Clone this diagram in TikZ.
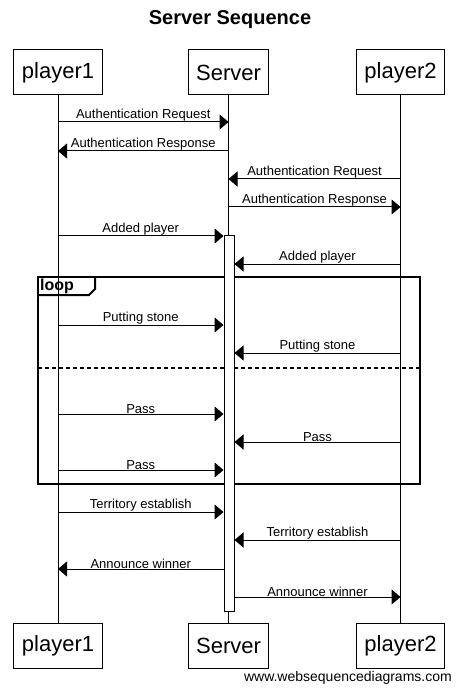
\documentclass[tikz,border=0pt]{standalone}
\usepackage{fontspec}
\setmainfont{Liberation Sans}
\usetikzlibrary{arrows.meta}

\begin{document}
\begin{tikzpicture}[x=1pt,y=-1pt,
    actor/.style={draw,fill=white,line width=1pt,minimum height=45pt,inner xsep=8pt,font=\fontsize{22}{26}\selectfont},
    msg/.style={line width=1pt,-{Triangle[length=9pt,width=15pt]}},
    lbl/.style={midway,above,inner sep=0pt,font=\fontsize{13}{15}\selectfont},
    frame/.style={line width=2pt}]
    \useasboundingbox (0,0) rectangle (460,692);

    \node[font=\bfseries\fontsize{20}{24}\selectfont] (title) at (230,20) {Server Sequence};

    % participants, top and bottom
    \node[actor] (p1top) at (58,72.5) {player1};
    \node[actor] (srvtop) at (228.5,72.5) {Server};
    \node[actor] (p2top) at (400.5,72.5) {player2};
    \node[actor] (p1bot) at (58,645.5) {player1};
    \node[actor] (srvbot) at (228.5,645.5) {Server};
    \node[actor] (p2bot) at (400.5,645.5) {player2};

    % lifelines
    \foreach \n in {p1,srv,p2} {
        \draw[line width=1pt] (\n top.south) -- (\n bot.north);
    };

    % loop frame
    \draw[frame] (38,277) rectangle (420,484);
    \draw[frame] (38,295) -- (89,295) -- (95,289) -- (95,277);
    \node[font=\bfseries\fontsize{16}{18}\selectfont,anchor=west,inner sep=1pt] (looplbl) at (39,286.5) {loop};
    \draw[frame,dash pattern=on 4pt off 3pt] (38,367.5) -- (420,367.5);

    % activation of the server
    \node[draw,fill=white,line width=1pt,minimum width=10pt,minimum height=375pt,inner sep=0pt] (act) at (229,423.5) {};

    % messages
    \draw[msg] (p1top |- 0,122) -- (srvtop |- 0,122) node[lbl]{Authentication Request};
    \draw[msg] (srvtop |- 0,151) -- (p1top |- 0,151) node[lbl]{Authentication Response};
    \draw[msg] (p2top |- 0,179) -- (srvtop |- 0,179) node[lbl]{Authentication Request};
    \draw[msg] (srvtop |- 0,207) -- (p2top |- 0,207) node[lbl]{Authentication Response};
    \draw[msg] (p1top |- 0,236) -- (act.west |- 0,236) node[lbl]{Added player};
    \draw[msg] (p2top |- 0,264) -- (act.east |- 0,264) node[lbl]{Added player};
    \draw[msg] (p1top |- 0,325) -- (act.west |- 0,325) node[lbl]{Putting stone};
    \draw[msg] (p2top |- 0,353) -- (act.east |- 0,353) node[lbl]{Putting stone};
    \draw[msg] (p1top |- 0,414) -- (act.west |- 0,414) node[lbl]{Pass};
    \draw[msg] (p2top |- 0,442) -- (act.east |- 0,442) node[lbl]{Pass};
    \draw[msg] (p1top |- 0,470) -- (act.west |- 0,470) node[lbl]{Pass};
    \draw[msg] (p1top |- 0,512) -- (act.west |- 0,512) node[lbl]{Territory establish};
    \draw[msg] (p2top |- 0,540) -- (act.east |- 0,540) node[lbl]{Territory establish};
    \draw[msg] (act.west |- 0,569) -- (p1top |- 0,569) node[lbl]{Announce winner};
    \draw[msg] (act.east |- 0,597) -- (p2top |- 0,597) node[lbl]{Announce winner};

    \node[anchor=east,inner sep=0pt,font=\fontsize{14}{16}\selectfont] (site) at (452,678) {www.websequencediagrams.com};
\end{tikzpicture}
\end{document}
